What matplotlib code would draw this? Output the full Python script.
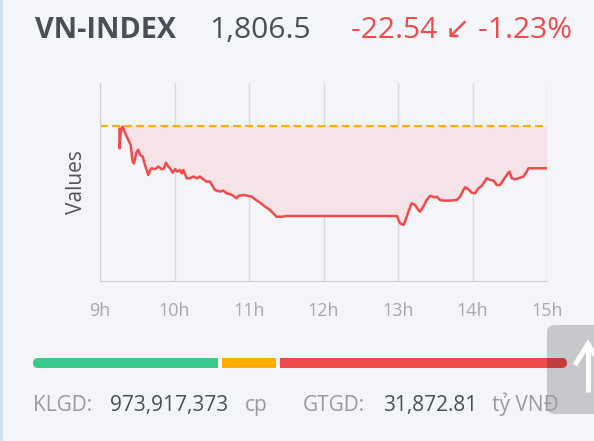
import matplotlib
matplotlib.use("Agg")
import matplotlib.pyplot as plt
from matplotlib.patches import FancyBboxPatch
import numpy as np

# intraday VN-INDEX, minutes after 9:00 and index value
minutes = [15.6, 15.8, 16.6, 18.0, 18.8, 20.9, 22.8, 24.7, 26.3, 27.4, 29.5, 30.9,
           32.2, 34.4, 36.2, 38.9, 40.3, 41.6, 44.3, 47.0, 49.7, 51.6, 53.2, 55.0,
           56.4, 58.5, 60.4, 62.3, 64.4, 65.8, 67.1, 69.8, 72.5, 75.2, 77.9, 80.6,
           83.2, 85.9, 88.6, 92.6, 96.7, 99.3, 102.0, 104.7, 107.4, 110.1, 111.4,
           115.5, 119.5, 122.2, 124.9, 128.9, 132.9, 136.9, 139.6, 142.3, 146.3,
           150.4, 239.0, 241.7, 244.3, 245.7, 248.4, 251.0, 253.7, 256.4, 257.8,
           260.4, 263.1, 265.8, 269.8, 271.2, 273.9, 276.6, 281.9, 287.3, 290.0,
           292.7, 294.0, 296.7, 299.4, 302.1, 304.7, 307.4, 311.5, 314.1, 316.8,
           319.5, 322.2, 324.9, 327.6, 329.7, 331.6, 334.3, 337.0, 341.0, 343.7,
           345.0, 360.0]
values = [1827.5, 1817.1, 1825.0, 1828.7, 1827.8, 1824.2, 1821.6, 1818.9, 1810.0,
          1809.1, 1815.4, 1816.3, 1813.6, 1812.7, 1808.3, 1802.9, 1805.6, 1806.5,
          1806.0, 1807.4, 1806.0, 1806.5, 1809.5, 1807.4, 1806.5, 1804.2, 1806.0,
          1804.7, 1805.6, 1803.8, 1805.6, 1801.2, 1801.2, 1802.1, 1801.2, 1802.1,
          1800.6, 1799.4, 1799.4, 1794.9, 1794.1, 1794.6, 1793.2, 1792.8, 1791.8,
          1790.5, 1791.8, 1792.3, 1791.8, 1791.4, 1790.0, 1788.2, 1786.1, 1784.3,
          1782.5, 1780.7, 1780.7, 1781.1, 1781.1, 1777.2, 1776.3, 1778.1, 1783.4,
          1787.9, 1787.0, 1784.3, 1783.4, 1786.1, 1789.6, 1791.8, 1791.0, 1791.4,
          1789.6, 1789.3, 1789.3, 1789.6, 1791.4, 1794.9, 1796.4, 1795.3, 1793.5,
          1793.2, 1795.8, 1797.1, 1801.2, 1800.3, 1800.0, 1797.6, 1797.6, 1800.3,
          1802.9, 1804.7, 1801.2, 1800.6, 1801.2, 1802.1, 1804.7, 1806.5, 1806.5]

ref_close = 1829.04
hours = [9, 10, 11, 12, 13, 14, 15]
hour_labels = ["9h", "10h", "11h", "12h", "13h", "14h", "15h"]

index_name = "VN-INDEX"
last_price = "1,806.5"
change_txt = "-22.54 \u2199 -1.23%"

breadth = [109, 34, 169]   # up / unchanged / down
breadth_colors = ["#3ac98a", "#ffab00", "#ef4b4b"]

volume = "973,917,373"
turnover = "31,872.81"

BG = "#f3f5f9"
W, H = 594, 441
FONT = ["Open Sans", "DejaVu Sans"]
plt.rcParams["font.family"] = FONT

fig = plt.figure(figsize=(W / 100, H / 100), dpi=100)
fig.patch.set_facecolor(BG)


def fx(px):
    return px / W


def fy(py):
    return 1 - py / H


# header
fig.text(fx(35), fy(38), index_name, fontsize=20.7, fontweight="bold", color="#4a4f57")
fig.text(fx(209), fy(38), last_price, fontsize=21.6, color="#4a4f57")
fig.text(fx(351), fy(38), change_txt, fontsize=21.6, color="#ef4b4b")

# left border line
fig.add_artist(plt.Line2D([fx(1), fx(1)], [0, 1], color="#cfe0f5", lw=2))

# chart
ax = fig.add_axes([fx(100), fy(281), fx(547) - fx(100), fy(83) - fy(281)])
ax.set_facecolor(BG)
t = 9 + np.array(minutes) / 60.0
v = np.array(values)
ax.fill_between(t, v, ref_close, color="#f5e3e8", lw=0, zorder=1)
ax.plot(t, v, color="#ef4b4b", lw=1.8, zorder=3)
ax.axhline(ref_close, color="#ffab00", lw=1.5, ls=(0, (3.8, 2.0)), zorder=2)
ax.set_xlim(9, 15)
ax.set_ylim(1746.5, 1851.9)
ax.set_xticks(hours)
ax.set_xticklabels(hour_labels)
ax.set_yticks([])
ax.grid(axis="x", color="#d9d9de", lw=1)
ax.set_axisbelow(True)
for s in ["top", "right"]:
    ax.spines[s].set_visible(False)
for s in ["left", "bottom"]:
    ax.spines[s].set_color("#cfd0d4")
ax.tick_params(axis="x", length=0, pad=15, labelsize=13, labelcolor="#a9a9a9")
ax.set_ylabel("Values", fontsize=15, color="#555555", labelpad=9)

# breadth bar: axes in pixel units so rounded ends stay round
BAR_W, BAR_H = 534, 10
bar_ax = fig.add_axes([fx(33), fy(368), fx(33 + BAR_W) - fx(33), fy(358) - fy(368)])
bar_ax.set_xlim(0, BAR_W)
bar_ax.set_ylim(0, BAR_H)
bar_ax.axis("off")
total = float(sum(breadth))
gap = 4.0
rad = BAR_H / 2
start = 0.0
for i, (n, c) in enumerate(zip(breadth, breadth_colors)):
    w = n / total * BAR_W
    x0 = start + (gap / 2 if i > 0 else 0)
    x1 = start + w - (gap / 2 if i < len(breadth) - 1 else 0)
    if i == 0 or i == len(breadth) - 1:
        bar_ax.add_patch(FancyBboxPatch((x0, 0), x1 - x0, BAR_H,
                                        boxstyle="round,pad=0,rounding_size=%g" % rad,
                                        fc=c, ec="none"))
        if i == 0:
            bar_ax.add_patch(plt.Rectangle((x1 - 2 * rad, 0), 2 * rad, BAR_H, fc=c, ec="none"))
        else:
            bar_ax.add_patch(plt.Rectangle((x0, 0), 2 * rad, BAR_H, fc=c, ec="none"))
    else:
        bar_ax.add_patch(plt.Rectangle((x0, 0), x1 - x0, BAR_H, fc=c, ec="none"))
    start += w

# footer
gray = "#9a9a9a"
dark = "#4a4f57"
fs = 15
fig.text(fx(33), fy(411), "KLGD:", fontsize=fs, color=gray)
fig.text(fx(110), fy(411), volume, fontsize=fs, color=dark)
fig.text(fx(245), fy(411), "cp", fontsize=fs, color=gray)
fig.text(fx(303), fy(411), "GTGD:", fontsize=fs, color=gray)
fig.text(fx(383), fy(411), turnover, fontsize=fs, color=dark)
fig.text(fx(492), fy(411), "t\u1ef7 VN\u0110", fontsize=fs, color=gray)

# scroll-to-top button (partly off canvas)
fig.add_artist(FancyBboxPatch((fx(547), fy(414)), fx(80), fy(325) - fy(414),
                              boxstyle="round,pad=0,rounding_size=0.015",
                              transform=fig.transFigure, fc="black", alpha=0.18,
                              ec="none"))
arrow_kw = dict(color="white", lw=3.6, solid_capstyle="butt", transform=fig.transFigure)
fig.add_artist(plt.Line2D([fx(588), fx(588)], [fy(392), fy(345)], **arrow_kw))
fig.add_artist(plt.Line2D([fx(575), fx(588), fx(601)], [fy(365), fy(344), fy(365)],
                          solid_joinstyle="miter", **arrow_kw))

fig.savefig("out.png", dpi=100, facecolor=BG)
